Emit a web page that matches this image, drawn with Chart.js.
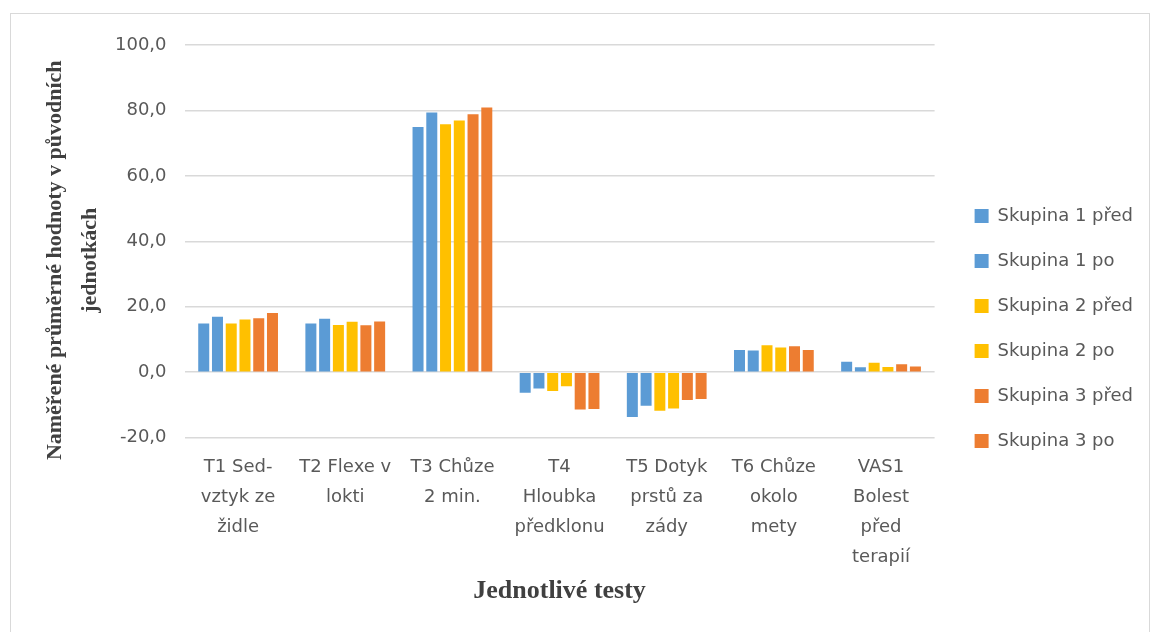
<!DOCTYPE html>
<html>
<head>
<meta charset="utf-8">
<script src="https://cdn.jsdelivr.net/npm/chart.js@4"></script>
<style>
  html, body { margin: 0; padding: 0; background: #fff; }
  body { width: 1153px; height: 632px; position: relative; overflow: hidden; }
  #frame { position: absolute; left: 10px; top: 13px; width: 1140px; height: 640px; border: 1px solid #d9d9d9; box-sizing: border-box; }
  #wrap { position: absolute; left: 0; top: 0; width: 1153px; height: 632px; }
</style>
</head>
<body>
<div id="frame"></div>
<div id="wrap"><canvas id="chart" width="1153" height="632"></canvas></div>
<script>
// kategorie (testy)
const categories = [
  ["T1 Sed-", "vztyk ze", "židle"],
  ["T2 Flexe v", "lokti"],
  ["T3 Chůze", "2 min."],
  ["T4", "Hloubka", "předklonu"],
  ["T5 Dotyk", "prstů za", "zády"],
  ["T6 Chůze", "okolo", "mety"],
  ["VAS1", "Bolest", "před", "terapií"]
];

const seriesNames = ["Skupina 1 před", "Skupina 1 po", "Skupina 2 před", "Skupina 2 po", "Skupina 3 před", "Skupina 3 po"];
const seriesColors = ["#5B9BD5", "#5B9BD5", "#FFC000", "#FFC000", "#ED7D31", "#ED7D31"];

const skupina1Pred = [14.9, 14.9, 74.9, -6.3, -13.7, 6.8, 3.2];
const skupina1Po   = [16.9, 16.3, 79.4, -5.0, -10.3, 6.6, 1.5];
const skupina2Pred = [14.9, 14.4, 75.8, -5.8, -11.8, 8.2, 2.9];
const skupina2Po   = [16.1, 15.4, 76.9, -4.3, -11.1, 7.5, 1.6];
const skupina3Pred = [16.5, 14.3, 78.8, -11.4, -8.5, 7.9, 2.4];
const skupina3Po   = [18.1, 15.5, 80.9, -11.3, -8.2, 6.8, 1.7];

const yTicks = [-20, 0, 20, 40, 60, 80, 100];
const yTitleLines = ["Naměřené průměrné hodnoty v původních", "jednotkách"];

const allSeries = [skupina1Pred, skupina1Po, skupina2Pred, skupina2Po, skupina3Pred, skupina3Po];

const textFont = "'DejaVu Sans'";

// nadpis osy Y - v Excelu je posunutý trochu níž než střed grafu
const yTitlePlugin = {
  id: "yTitle",
  afterDraw(chart) {
    const c = chart.ctx;
    const midY = (chart.chartArea.top + chart.chartArea.bottom) / 2 + 19;
    c.save();
    c.font = "bold 22px 'Liberation Serif'";
    c.fillStyle = "#404040";
    c.textAlign = "center";
    c.textBaseline = "middle";
    yTitleLines.forEach((t, i) => {
      c.save();
      c.translate(55 + i * 35, midY);
      c.rotate(-Math.PI / 2);
      c.fillText(t, 0, 0);
      c.restore();
    });
    c.restore();
  }
};

const ctx = document.getElementById("chart").getContext("2d");
new Chart(ctx, {
  type: "bar",
  data: {
    labels: categories,
    datasets: allSeries.map((vals, i) => ({
      label: seriesNames[i],
      data: vals,
      backgroundColor: seriesColors[i],
      categoryPercentage: 0.77,
      barPercentage: 0.8
    }))
  },
  plugins: [yTitlePlugin],
  options: {
    responsive: false,
    animation: false,
    layout: { padding: { top: 45, right: 10, bottom: 20, left: 97 } },
    plugins: {
      legend: {
        position: "right",
        maxWidth: 260,
        labels: {
          boxWidth: 14,
          boxHeight: 14,
          padding: 27,
          color: "#595959",
          font: { family: textFont, size: 18 }
        }
      },
      tooltip: { enabled: false }
    },
    scales: {
      y: {
        min: -20,
        max: 100,
        afterBuildTicks: axis => { axis.ticks = yTicks.map(v => ({ value: v })); },
        grid: { color: "#d9d9d9", lineWidth: 1.5, drawTicks: false },
        border: { display: false },
        ticks: {
          padding: 18,
          color: "#595959",
          font: { family: textFont, size: 18 },
          callback: v => v.toFixed(1).replace(".", ",")
        }
      },
      // prázdná osa vpravo jen jako mezera před legendou
      gap: {
        position: "right",
        display: true,
        grid: { display: false, drawTicks: false },
        border: { display: false },
        ticks: { display: false },
        afterFit: s => { s.width = 13; }
      },
      x: {
        grid: { display: false, drawTicks: false },
        border: { display: false },
        ticks: {
          padding: 15,
          maxRotation: 0,
          autoSkip: false,
          color: "#595959",
          font: { family: textFont, size: 18, lineHeight: 1.67 }
        },
        title: {
          display: true,
          text: "Jednotlivé testy",
          color: "#404040",
          font: { family: "'Liberation Serif'", size: 26, weight: "bold" },
          padding: { top: -12, bottom: 5 }
        }
      }
    }
  }
});
</script>
</body>
</html>
